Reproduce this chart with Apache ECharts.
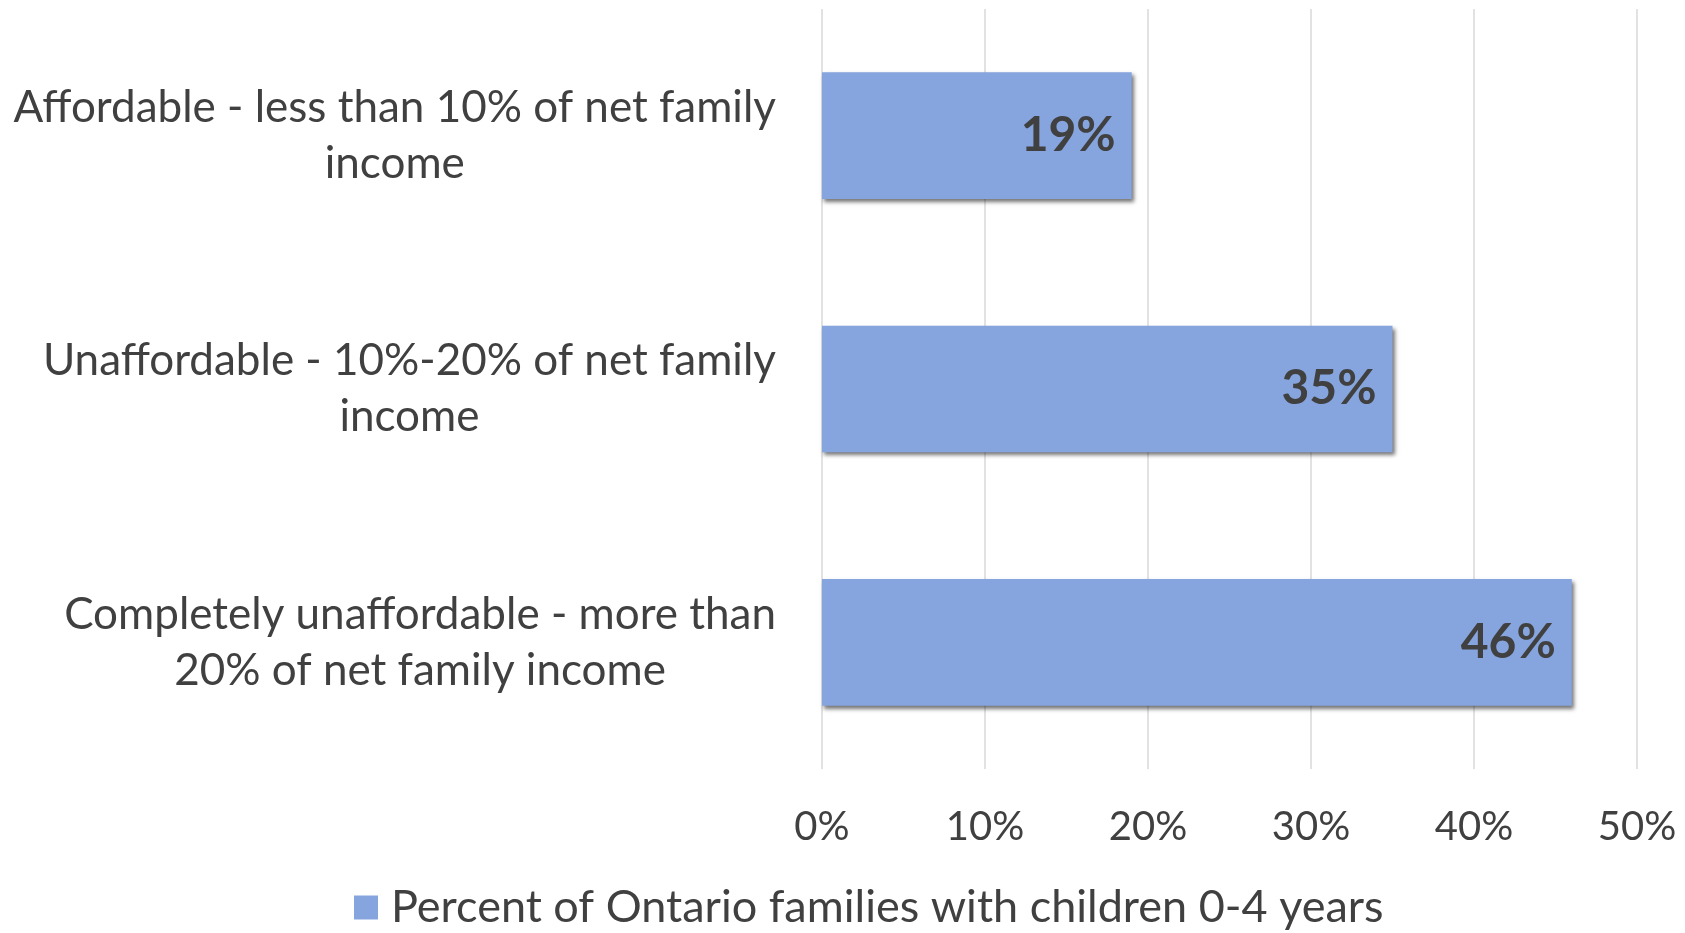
<!DOCTYPE html>
<html>
<head>
<meta charset="utf-8">
<script src="https://cdn.jsdelivr.net/npm/echarts@6/dist/echarts.min.js"></script>
<style>
html,body{margin:0;padding:0;background:#fff;}
#chart{width:1685px;height:933px;}
</style>
</head>
<body>
<div id="chart"></div>
<script>
const categories = [
  ["Affordable - less than 10% of net family", "income"],
  ["Unaffordable - 10%-20% of net family", "income"],
  ["Completely unaffordable - more than", "20% of net family income"]
];
const values = [19, 35, 46];
const seriesName = "Percent of Ontario families with children 0-4 years";
const xTicks = { min: 0, max: 50, interval: 10 };

const FONT = "Lato";
const TEXT = "#404040";
const chart = echarts.init(document.getElementById('chart'));
chart.setOption({
  backgroundColor: '#fff',
  animation: false,
  textStyle: { fontFamily: FONT },
  grid: { left: 822, right: 48, top: 9, bottom: 164, containLabel: false },
  legend: {
    data: [seriesName],
    left: 349,
    top: 880,
    icon: 'rect',
    itemWidth: 24,
    itemHeight: 24,
    itemGap: 10,
    textStyle: { fontFamily: FONT, fontSize: 45, color: TEXT, padding: [0, 0, 0, 8] }
  },
  xAxis: {
    type: 'value',
    min: xTicks.min,
    max: xTicks.max,
    interval: xTicks.interval,
    axisLine: { show: false },
    axisTick: { show: false },
    splitLine: { show: true, lineStyle: { color: '#d9d9d9', width: 1.5 } },
    axisLabel: { formatter: '{value}%', fontFamily: FONT, fontSize: 40, color: TEXT, margin: 38 }
  },
  yAxis: {
    type: 'category',
    inverse: true,
    data: categories.map(c => c.join('\n')),
    axisLine: { show: false },
    axisTick: { show: false },
    axisLabel: {
      margin: 46,
      fontFamily: FONT,
      fontSize: 44,
      color: TEXT,
      formatter: function (v) {
        return v.split('\n').map(l => '{c|' + l + '}').join('\n');
      },
      rich: { c: { align: 'center', fontFamily: FONT, fontSize: 44, color: TEXT, lineHeight: 56 } }
    }
  },
  series: [{
    name: seriesName,
    type: 'bar',
    data: values,
    barWidth: '50%',
    itemStyle: {
      color: '#86A4DE',
      shadowColor: 'rgba(0,0,0,0.55)',
      shadowBlur: 4,
      shadowOffsetX: 2,
      shadowOffsetY: 3
    },
    label: {
      show: true,
      position: 'insideRight',
      distance: 16,
      formatter: '{c}%',
      fontFamily: FONT,
      fontWeight: 'bold',
      fontSize: 48,
      color: TEXT
    }
  }]
});
</script>
</body>
</html>
